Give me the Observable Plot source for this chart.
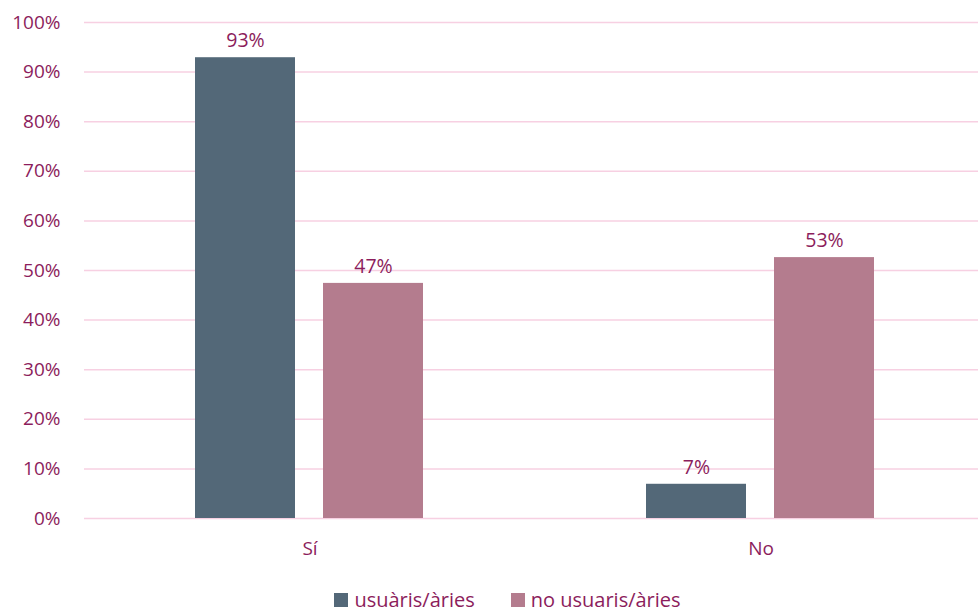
<!DOCTYPE html>
<html>
<head>
<meta charset="utf-8">
<script src="https://cdn.jsdelivr.net/npm/d3@7"></script>
<script src="https://cdn.jsdelivr.net/npm/@observablehq/plot@0.6"></script>
<style>
  body { margin: 0; background: #fff; font-family: "Open Sans", sans-serif; }
  #legend { display: flex; justify-content: center; gap: 36px; margin-left: 37px; margin-top: 11px; color: #8c1d5c; font-size: 20px; line-height: 27px; }
  #legend span.item { display: flex; align-items: center; gap: 6px; }
  #legend span.sw { width: 14px; height: 14px; display: inline-block; }
</style>
</head>
<body>
<div id="chart"></div>
<div id="legend"></div>
<script>
const groups = ["Sí", "No"];
const series = ["usuàris/àries", "no usuaris/àries"];
const usuaris = [92.9, 6.9];
const noUsuaris = [47.4, 52.6];
const colors = ["#536878", "#b47c8e"];
const yTicks = [0, 10, 20, 30, 40, 50, 60, 70, 80, 90, 100];

const data = [];
groups.forEach((g, i) => {
  data.push({group: g, series: series[0], value: usuaris[i]});
  data.push({group: g, series: series[1], value: noUsuaris[i]});
});

const textColor = "#8c1d5c";

const chart = Plot.plot({
  width: 978,
  height: 575,
  marginLeft: 85,
  marginRight: 0,
  marginTop: 22,
  marginBottom: 57,
  style: {fontFamily: "'Open Sans', sans-serif", fontSize: "19px", color: textColor, background: "#fff", overflow: "hidden"},
  fx: {domain: groups, padding: 0, range: [84, 986], label: null, axis: "bottom", tickSize: 0, tickPadding: 23},
  x: {domain: series, axis: null, paddingInner: 0.217, paddingOuter: 0.87},
  y: {domain: [0, 100], axis: null},
  color: {domain: series, range: colors},
  marks: [
    Plot.ruleY(yTicks, {stroke: "#f7d0e2", strokeWidth: 1.5}),
    Plot.barY(data, {fx: "group", x: "series", y: "value", fill: "series"}),
    Plot.text(data, {fx: "group", x: "series", y: "value", text: d => Math.round(d.value) + "%", dy: -17, fill: textColor, fontSize: 19.5}),
    Plot.axisY({ticks: yTicks, tickFormat: d => d + "%", tickSize: 0, tickPadding: 24, label: null, fontSize: 19, facetAnchor: "left"})
  ]
});
document.getElementById("chart").appendChild(chart);

const legend = document.getElementById("legend");
series.forEach((s, i) => {
  const item = document.createElement("span");
  item.className = "item";
  const sw = document.createElement("span");
  sw.className = "sw";
  sw.style.background = colors[i];
  const t = document.createElement("span");
  t.textContent = s;
  item.appendChild(sw);
  item.appendChild(t);
  legend.appendChild(item);
});
</script>
</body>
</html>
